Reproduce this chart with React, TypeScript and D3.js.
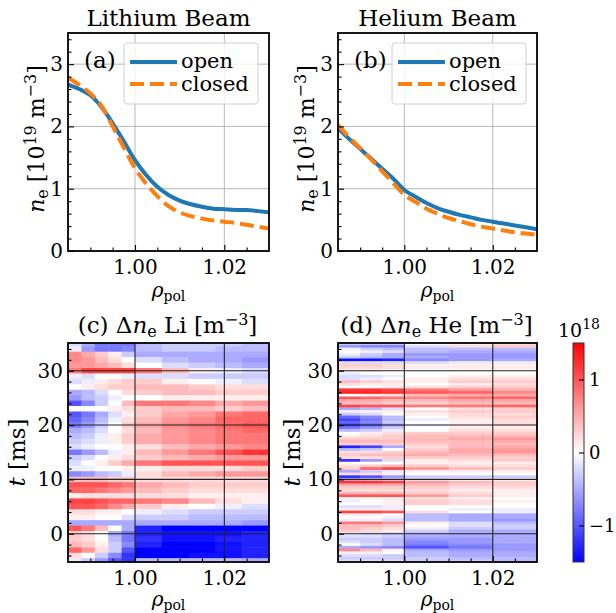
import React, { useEffect, useRef } from "react";
import * as d3 from "d3";

const FONT = "'DejaVu Serif', serif";

// profiles n_e [1e19 m^-3] vs rho_pol
const rho = [0.985, 0.9875, 0.99, 0.9925, 0.995, 0.9975, 1.0, 1.0025, 1.005, 1.0075, 1.01, 1.0125, 1.015, 1.0175, 1.02, 1.0225, 1.025, 1.0275, 1.03];
const liOpen = [2.67, 2.6, 2.5, 2.31, 2.05, 1.76, 1.46, 1.22, 1.03, 0.9, 0.81, 0.75, 0.71, 0.68, 0.67, 0.66, 0.66, 0.64, 0.62];
const liClosed = [2.78, 2.67, 2.53, 2.33, 2.0, 1.66, 1.33, 1.08, 0.88, 0.72, 0.62, 0.56, 0.52, 0.49, 0.47, 0.45, 0.42, 0.39, 0.36];
const heOpen = [1.97, 1.8, 1.64, 1.48, 1.32, 1.16, 0.98, 0.87, 0.77, 0.69, 0.63, 0.58, 0.54, 0.5, 0.47, 0.44, 0.41, 0.38, 0.35];
const heClosed = [2.02, 1.83, 1.65, 1.47, 1.28, 1.09, 0.9, 0.79, 0.68, 0.6, 0.53, 0.48, 0.43, 0.39, 0.36, 0.33, 0.3, 0.28, 0.26];

const yTicks = [0, 1, 2, 3];
const yMinor = [0.2, 0.4, 0.6, 0.8, 1.2, 1.4, 1.6, 1.8, 2.2, 2.4, 2.6, 2.8, 3.2, 3.4];
const xTicks = [1.0, 1.02];
const xMinor = [0.99, 0.995, 1.005, 1.01, 1.015, 1.025];
const tTicks = [0, 10, 20, 30];
const tMinor = [-4, -2, 2, 4, 6, 8, 12, 14, 16, 18, 22, 24, 26, 28, 32, 34];
const cbTicks = [-1, 0, 1];

// delta n_e maps, in units of 1e17 m^-3 (tenths of the colorbar unit)
// Li: rows of 1 ms from t = 35 ms down to -5 ms
const liTop = 35;
const liStep = 1;
const liEdges = [0.985, 0.988, 0.991, 0.994, 0.997, 1.0, 1.006, 1.012, 1.018, 1.024, 1.03];
const liRows = [
  [-2, -5, -8, -8, -8, -4, -3, -3, -3, -4],
  [-1, -6, -8, -8, -7, -4, -3, -3, -4, -4],
  [7, 5, 3, 1, -3, -5, -5, -5, -5, -5],
  [7, 6, 4, 2, 0, -2, -4, -5, -5, -6],
  [6, 6, 5, 4, 2, 0, -2, -3, -4, -5],
  [8, 11, 11, 11, 11, 8, 4, 1, -1, -2],
  [-1, -2, 0, 0, -1, -2, -2, -3, -3, -3],
  [-2, -1, 1, 2, 3, 3, 1, 0, -1, -2],
  [0, 1, 2, 3, 3, 4, 4, 3, 2, 2],
  [-5, -4, -2, 0, 2, 3, 4, 4, 3, 3],
  [-6, -4, -3, -1, 0, 0, 1, 1, 1, 1],
  [-10, -7, -3, 0, 4, 8, 8, 7, 5, 6],
  [0, 0, 0, 1, 2, 3, 4, 4, 3, 4],
  [-10, -8, -5, -2, 1, 3, 5, 6, 8, 9],
  [-9, -7, -4, -1, 2, 4, 6, 7, 9, 9],
  [-8, -6, -3, 0, 3, 5, 7, 8, 9, 10],
  [-5, -4, -2, 0, 2, 4, 6, 7, 8, 9],
  [-4, -3, -1, 1, 3, 5, 6, 7, 8, 8],
  [-3, -2, -1, 1, 3, 5, 6, 7, 8, 8],
  [-2, -1, 0, 0, 1, 2, 4, 5, 6, 7],
  [-8, -6, -4, -1, 1, 4, 6, 8, 10, 12],
  [-3, -2, 0, 1, 2, 3, 4, 5, 6, 6],
  [-2, 0, 1, 3, 5, 8, 10, 10, 10, 10],
  [-1, -1, 0, 0, 1, 1, 2, 2, 2, 3],
  [-7, -6, -4, -3, -1, 2, 4, 5, 6, 6],
  [4, 4, 4, 3, 3, 2, 2, 2, 2, 2],
  [10, 10, 10, 9, 8, 5, 4, 3, 3, 3],
  [9, 9, 8, 7, 6, 4, 3, 2, 2, 2],
  [1, 2, 2, 2, 2, 2, 2, 1, 1, 1],
  [11, 11, 10, 9, 9, 8, 7, 4, 2, 1],
  [10, 10, 9, 7, 5, 3, 1, 0, -1, -2],
  [2, 2, 1, 1, 0, -1, -2, -3, -3, -3],
  [1, 1, 0, 0, -2, -3, -3, -4, -4, -4],
  [-5, -5, -5, -5, -5, -5, -5, -5, -5, -6],
  [10, 8, 4, 0, -5, -13, -15, -15, -15, -15],
  [3, 2, 0, -5, -8, -13, -14, -14, -14, -13],
  [3, 2, 0, -4, -8, -12, -14, -14, -13, -13],
  [4, 3, 1, -3, -7, -13, -15, -15, -14, -13],
  [9, 6, 2, -3, -10, -15, -15, -15, -14, -13],
  [2, 0, -3, -7, -12, -15, -15, -14, -14, -13],
  [-1, -3, -6, -10, -12, -4, -4, -4, -4, -5]
];

// He: rows of 0.5 ms from t = 35 ms down to -5 ms
const heTop = 35;
const heStep = 0.5;
const heEdges = [0.985, 0.99, 0.995, 1.0, 1.01, 1.02, 1.03];
const heRows = [
  [-3, -3, -3, 0, 1, 2],
  [-6, -7, -7, -2, 2, 3],
  [-1, -3, -4, -4, -4, -4],
  [0, -1, -2, -4, -5, -5],
  [-1, -3, -5, -6, -6, -6],
  [-3, -4, -5, -5, -6, -6],
  [-14, -14, -13, -7, -6, -5],
  [-2, -2, -2, -2, -1, -1],
  [3, 3, 2, 1, 1, 1],
  [2, 2, 2, 1, 1, 1],
  [1, 1, 0, 0, 0, 0],
  [-1, 0, 0, 0, 0, 0],
  [-2, -2, -1, 0, 1, 1],
  [-2, -1, 0, 1, 2, 2],
  [4, 3, 2, 1, 3, 3],
  [2, 1, 1, 0, 1, 2],
  [0, 0, 1, 2, 3, 3],
  [12, 12, 11, 8, 6, 5],
  [13, 13, 12, 10, 9, 7],
  [0, 1, 2, 4, 5, 5],
  [10, 9, 8, 7, 8, 9],
  [5, 5, 4, 4, 5, 5],
  [4, 4, 3, 3, 4, 4],
  [11, 10, 10, 8, 8, 9],
  [-5, -4, -2, 0, 2, 3],
  [1, 1, 1, 2, 3, 3],
  [-3, -2, 0, 1, 2, 2],
  [-9, -7, -4, 0, 2, 3],
  [-11, -8, -4, -1, 1, 2],
  [-9, -7, -3, 0, 1, 2],
  [-12, -10, -6, -1, 1, 2],
  [-8, -6, -3, 0, 1, 1],
  [-4, -3, -1, 0, 2, 2],
  [0, 1, 2, 3, 3, 3],
  [1, 2, 3, 4, 4, 4],
  [3, 3, 3, 4, 5, 6],
  [4, 4, 4, 4, 4, 5],
  [3, 3, 3, 3, 4, 4],
  [-13, -11, -5, 2, 4, 5],
  [-4, -3, 0, 3, 5, 6],
  [2, 2, 3, 4, 5, 6],
  [3, 4, 4, 5, 4, 4],
  [2, 2, 3, 3, 3, 3],
  [-12, -6, -2, 1, 2, 3],
  [0, 0, 0, 1, 1, 1],
  [2, 3, 4, 3, 2, 2],
  [3, 9, 11, 6, 4, 3],
  [-5, -3, -1, 1, 1, 1],
  [2, 2, 1, 0, 0, 0],
  [-12, -10, -6, -3, -3, -3],
  [-4, -3, -2, -1, 0, 0],
  [12, 12, 11, 6, 4, 3],
  [5, 5, 5, 4, 3, 3],
  [3, 3, 3, 3, 2, 2],
  [2, 2, 2, 2, 1, 1],
  [4, 4, 4, 3, 2, 1],
  [10, 10, 10, 6, 3, 1],
  [1, 1, 1, 2, 1, 0],
  [-1, 0, 1, 3, 2, 1],
  [0, 0, 1, 3, 2, 0],
  [-2, -2, -1, 0, 0, 0],
  [1, 1, 1, 0, -1, -1],
  [11, 11, 10, 2, 0, -1],
  [1, 1, 0, -4, -5, -5],
  [0, 0, -1, -4, -5, -5],
  [-1, -1, -2, -4, -5, -6],
  [8, 8, 6, 1, -2, -4],
  [4, 4, 3, 0, -2, -3],
  [4, 3, 2, -1, -3, -3],
  [3, 2, 1, -3, -5, -5],
  [-1, -2, -3, -4, -5, -5],
  [-2, -2, -3, -5, -5, -5],
  [-3, -3, -4, -6, -6, -5],
  [-2, -3, -4, -7, -6, -5],
  [0, -2, -4, -8, -7, -6],
  [-5, -6, -7, -10, -8, -6],
  [7, 4, 1, -5, -6, -6],
  [1, 1, 0, -4, -5, -5],
  [-2, -2, -3, -4, -5, -5],
  [-3, -3, -3, -3, -4, -4],
  [-2, -2, -2, -3, -3, -4]
];

const bwr = d3
  .scaleLinear<string>()
  .domain([-1.5, 0, 1.5])
  .range(["#0000ff", "#ffffff", "#ff0000"])
  .clamp(true);

const TICK = 20;
const LABEL = 23;
const SUB = 16;

function styleText(sel: any, size = LABEL) {
  sel.attr("font-family", FONT).attr("font-size", size).attr("fill", "black");
}

function addAxes(g: any, x: any, y: any, box: any, yt: number[], ym: number[]) {
  const bottom = g
    .append("g")
    .attr("transform", `translate(0,${box.b})`)
    .call(d3.axisBottom(x).tickValues(xTicks).tickSize(-6).tickSizeOuter(0).tickPadding(9).tickFormat(d3.format(".2f")));
  const bminor = g
    .append("g")
    .attr("transform", `translate(0,${box.b})`)
    .call(d3.axisBottom(x).tickValues(xMinor).tickSize(-3.5).tickSizeOuter(0).tickFormat(() => ""));
  const left = g
    .append("g")
    .attr("transform", `translate(${box.l},0)`)
    .call(d3.axisLeft(y).tickValues(yt).tickSize(-6).tickSizeOuter(0).tickPadding(5).tickFormat(d3.format("d")));
  const lminor = g
    .append("g")
    .attr("transform", `translate(${box.l},0)`)
    .call(d3.axisLeft(y).tickValues(ym).tickSize(-3.5).tickSizeOuter(0).tickFormat(() => ""));
  [bottom, bminor, left, lminor].forEach(a => {
    a.select(".domain").remove();
    a.selectAll("line").attr("stroke", "black").attr("stroke-width", 1.1);
    a.selectAll("text").attr("font-family", FONT).attr("font-size", TICK).attr("fill", "black");
  });
  g.append("rect")
    .attr("x", box.l)
    .attr("y", box.t)
    .attr("width", box.r - box.l)
    .attr("height", box.b - box.t)
    .attr("fill", "none")
    .attr("stroke", "black")
    .attr("stroke-width", 1.8);
}

function rhoLabel(g: any, cx: number, y: number) {
  const t = g.append("text").attr("x", cx).attr("y", y).attr("text-anchor", "middle");
  styleText(t, 20);
  t.append("tspan").attr("font-style", "italic").text("ρ");
  t.append("tspan").attr("font-size", 14).attr("dy", 4).text("pol");
}

function drawProfile(svg: any, box: any, id: string, title: string, tag: string, open: number[], closed: number[]) {
  const g = svg.append("g");
  const x = d3.scaleLinear().domain([0.985, 1.03]).range([box.l, box.r]);
  const y = d3.scaleLinear().domain([0, 3.5]).range([box.b, box.t]);

  g.append("clipPath").attr("id", id).append("rect")
    .attr("x", box.l).attr("y", box.t).attr("width", box.r - box.l).attr("height", box.b - box.t);

  // grid
  g.selectAll(".gx").data(xTicks).join("line")
    .attr("x1", d => x(d)).attr("x2", d => x(d)).attr("y1", box.t).attr("y2", box.b)
    .attr("stroke", "#b0b0b0").attr("stroke-width", 0.9);
  g.selectAll(".gy").data(yTicks).join("line")
    .attr("x1", box.l).attr("x2", box.r).attr("y1", d => y(d)).attr("y2", d => y(d))
    .attr("stroke", "#b0b0b0").attr("stroke-width", 0.9);

  const line = d3.line<number>().x((d, i) => x(rho[i])).y(d => y(d)).curve(d3.curveMonotoneX);
  const lines = g.append("g").attr("clip-path", `url(#${id})`);
  lines.append("path").attr("d", line(open)).attr("fill", "none")
    .attr("stroke", "#1f77b4").attr("stroke-width", 4);
  lines.append("path").attr("d", line(closed)).attr("fill", "none")
    .attr("stroke", "#ff7f0e").attr("stroke-width", 4).attr("stroke-dasharray", "14,6");

  addAxes(g, x, y, box, yTicks, yMinor);

  // legend
  const lx = box.r - 145;
  g.append("rect").attr("x", lx).attr("y", 43).attr("width", 134).attr("height", 61).attr("rx", 3)
    .attr("fill", "white").attr("fill-opacity", 0.8).attr("stroke", "#d0d0d0");
  g.append("line").attr("x1", lx + 6).attr("x2", lx + 53).attr("y1", 62).attr("y2", 62)
    .attr("stroke", "#1f77b4").attr("stroke-width", 4);
  g.append("line").attr("x1", lx + 6).attr("x2", lx + 53).attr("y1", 84).attr("y2", 84)
    .attr("stroke", "#ff7f0e").attr("stroke-width", 4).attr("stroke-dasharray", "14,6");
  styleText(g.append("text").attr("x", lx + 57).attr("y", 68).text("open"), 21);
  styleText(g.append("text").attr("x", lx + 57).attr("y", 91).text("closed"), 21);

  styleText(g.append("text").attr("x", box.l + 16).attr("y", 68).text(tag), 23);
  styleText(g.append("text").attr("x", (box.l + box.r) / 2).attr("y", 26).attr("text-anchor", "middle").text(title), 23);

  const yl = g.append("text").attr("text-anchor", "middle")
    .attr("transform", `translate(${box.l - 24},${(box.t + box.b) / 2 - 3}) rotate(-90)`);
  styleText(yl, 22);
  yl.append("tspan").attr("font-style", "italic").text("n");
  yl.append("tspan").attr("font-size", SUB).attr("dy", 4).text("e");
  yl.append("tspan").attr("dy", -4).text(" [10");
  yl.append("tspan").attr("font-size", SUB).attr("dy", -8).text("19");
  yl.append("tspan").attr("dy", 8).text(" m");
  yl.append("tspan").attr("font-size", SUB).attr("dy", -8).text("−3");
  yl.append("tspan").attr("dy", 8).text("]");

  rhoLabel(g, (box.l + box.r) / 2, 297);
}

function drawMap(svg: any, box: any, id: string, tag: string, ion: string, rows: number[][], edges: number[], top: number, step: number, ylx: number) {
  const g = svg.append("g");
  const x = d3.scaleLinear().domain([0.985, 1.03]).range([box.l, box.r]);
  const y = d3.scaleLinear().domain([-5.2, 35.1]).range([box.b, box.t]);

  g.append("clipPath").attr("id", id).append("rect")
    .attr("x", box.l).attr("y", box.t).attr("width", box.r - box.l).attr("height", box.b - box.t);

  const cells = g.append("g").attr("clip-path", `url(#${id})`);
  cells.selectAll("g").data(rows).join("g")
    .each(function (row: number[], i: number) {
      const t = top - i * step;
      d3.select(this).selectAll("rect").data(row).join("rect")
        .attr("x", (d, j) => x(edges[j]))
        .attr("width", (d, j) => x(edges[j + 1]) - x(edges[j]) + 0.5)
        .attr("y", y(t + step / 2))
        .attr("height", y(t - step / 2) - y(t + step / 2) + 0.5)
        .attr("fill", d => bwr(d / 10));
    });

  // dark grid over the map
  cells.selectAll(".gx").data(xTicks).join("line")
    .attr("x1", d => x(d)).attr("x2", d => x(d)).attr("y1", box.t).attr("y2", box.b)
    .attr("stroke", "#222").attr("stroke-width", 1.1);
  cells.selectAll(".gy").data(tTicks).join("line")
    .attr("x1", box.l).attr("x2", box.r).attr("y1", d => y(d)).attr("y2", d => y(d))
    .attr("stroke", "#222").attr("stroke-width", 1.1);

  addAxes(g, x, y, box, tTicks, tMinor);

  const tt = g.append("text").attr("x", (box.l + box.r) / 2 - 1).attr("y", 333).attr("text-anchor", "middle");
  styleText(tt, 23);
  tt.append("tspan").text(tag + " Δ");
  tt.append("tspan").attr("font-style", "italic").text("n");
  tt.append("tspan").attr("font-size", SUB).attr("dy", 4).text("e");
  tt.append("tspan").attr("dy", -4).text(" " + ion + " [m");
  tt.append("tspan").attr("font-size", SUB).attr("dy", -8).text("−3");
  tt.append("tspan").attr("dy", 8).text("]");

  const yl = g.append("text").attr("text-anchor", "middle")
    .attr("transform", `translate(${ylx},${(box.t + box.b) / 2}) rotate(-90)`);
  styleText(yl, 23);
  yl.append("tspan").attr("font-style", "italic").text("t");
  yl.append("tspan").text(" [ms]");

  rhoLabel(g, (box.l + box.r) / 2, 606);
}

function drawColorbar(svg: any) {
  const box = { l: 573, r: 584, t: 343, b: 562 };
  const c = d3.scaleLinear().domain([-1.5, 1.5]).range([box.b, box.t]);
  const defs = svg.append("defs");
  const grad = defs.append("linearGradient").attr("id", "cbgrad")
    .attr("x1", 0).attr("y1", 1).attr("x2", 0).attr("y2", 0);
  [-1.5, -0.75, 0, 0.75, 1.5].forEach(v => {
    grad.append("stop").attr("offset", (v + 1.5) / 3).attr("stop-color", bwr(v));
  });
  svg.append("rect").attr("x", box.l).attr("y", box.t).attr("width", box.r - box.l).attr("height", box.b - box.t)
    .attr("fill", "url(#cbgrad)").attr("stroke", "#333").attr("stroke-width", 1);
  const ax = svg.append("g").attr("transform", `translate(${box.r},0)`)
    .call(d3.axisRight(c).tickValues(cbTicks).tickSize(-5).tickSizeOuter(0).tickPadding(5).tickFormat(d3.format("d")));
  ax.select(".domain").remove();
  ax.selectAll("line").attr("stroke", "black").attr("stroke-width", 1.1);
  ax.selectAll("text").attr("font-family", FONT).attr("font-size", 18).attr("fill", "black");
  const off = svg.append("text").attr("x", 558).attr("y", 337);
  styleText(off, 19);
  off.append("tspan").text("10");
  off.append("tspan").attr("font-size", 14).attr("dy", -8).text("18");
}

export default function App() {
  const ref = useRef<SVGSVGElement>(null);
  useEffect(() => {
    const svg = d3.select(ref.current);
    svg.selectAll("*").remove();
    drawProfile(svg, { l: 68, r: 269, t: 33, b: 251 }, "clipA", "Lithium Beam", "(a)", liOpen, liClosed);
    drawProfile(svg, { l: 338, r: 537, t: 33, b: 251 }, "clipB", "Helium Beam", "(b)", heOpen, heClosed);
    drawMap(svg, { l: 68, r: 269, t: 343, b: 562 }, "clipC", "(c)", "Li", liRows, liEdges, liTop, liStep, 25);
    drawMap(svg, { l: 338, r: 537, t: 343, b: 562 }, "clipD", "(d)", "He", heRows, heEdges, heTop, heStep, 300);
    drawColorbar(svg);
  }, []);
  return (
    <svg
      ref={ref}
      width={616}
      height={613}
      style={{ position: "absolute", left: 0, top: 0, background: "white" }}
    />
  );
}
